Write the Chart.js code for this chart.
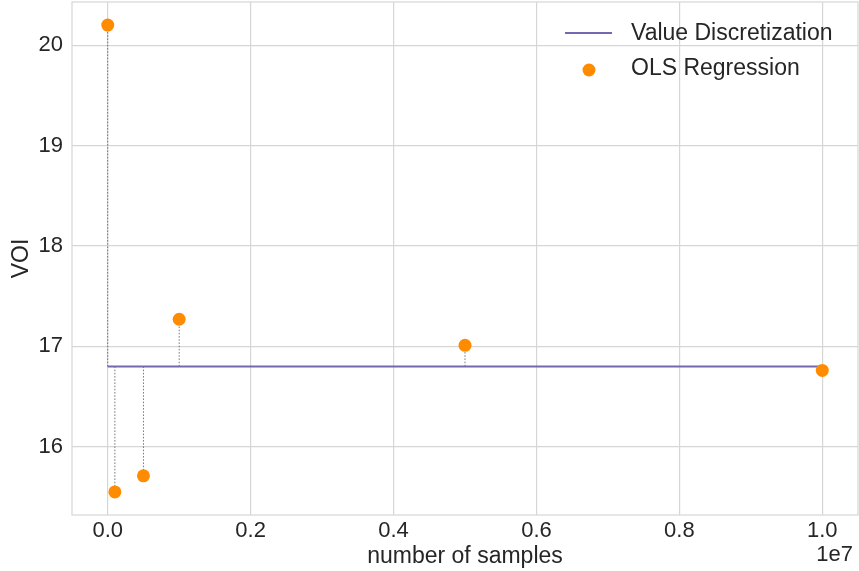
<!DOCTYPE html>
<html>
<head>
<meta charset="utf-8">
<script src="https://cdn.jsdelivr.net/npm/chart.js@4/dist/chart.umd.min.js"></script>
<style>
  html, body { margin: 0; padding: 0; background: #ffffff; }
  #chart { display: block; }
</style>
</head>
<body>
<canvas id="chart" width="859" height="571"></canvas>
<script>
// Sample counts and the VOI estimate obtained by OLS regression at each
const sampleCounts = [0, 100000, 500000, 1000000, 5000000, 10000000];
const olsVoi = [20.2, 15.55, 15.71, 17.27, 17.01, 16.76];

// Value discretization result, constant across the sample range
const discretizationX = [0, 10000000];
const discretizationVoi = [16.8, 16.8];

// Axis ticks and limits
const xTicks = [0, 2000000, 4000000, 6000000, 8000000, 10000000];
const yTicks = [16, 17, 18, 19, 20];
const xLimits = [-500000, 10500000];
const yLimits = [15.32, 20.43];

const TEXT = '#262626';
const GRID = '#d6d6d6';
const FONT = "'Liberation Sans', Arial, sans-serif";
const LINE_COLOR = '#7468b0';
const DOT_COLOR = '#ff8c00';

// Dotted stems joining each regression estimate to the discretization level
const stemDatasets = sampleCounts.map((x, i) => ({
  type: 'line',
  label: '_stem' + i,
  data: [{ x: x, y: discretizationVoi[0] }, { x: x, y: olsVoi[i] }],
  borderColor: 'rgba(50,50,50,0.8)',
  borderWidth: 0.8,
  borderDash: [1.6, 1.6],
  pointRadius: 0,
  order: 2
}));

const datasets = [
  {
    type: 'scatter',
    label: 'OLS Regression',
    data: sampleCounts.map((x, i) => ({ x: x, y: olsVoi[i] })),
    backgroundColor: DOT_COLOR,
    borderWidth: 0,
    pointRadius: 6.5,
    order: 0
  },
  {
    type: 'line',
    label: 'Value Discretization',
    data: discretizationX.map((x, i) => ({ x: x, y: discretizationVoi[i] })),
    borderColor: LINE_COLOR,
    borderWidth: 2,
    pointRadius: 0,
    order: 1
  },
  ...stemDatasets
];

// Frame, legend and the scientific offset label
const decorations = {
  id: 'decorations',
  afterDraw(chart) {
    const { ctx, chartArea: a } = chart;
    ctx.save();
    ctx.strokeStyle = GRID;
    ctx.lineWidth = 1.2;
    ctx.strokeRect(a.left, a.top, a.right - a.left, a.bottom - a.top);

    ctx.fillStyle = TEXT;
    ctx.font = '23px ' + FONT;
    ctx.textBaseline = 'middle';
    ctx.textAlign = 'left';

    // legend entry: line
    ctx.strokeStyle = LINE_COLOR;
    ctx.lineWidth = 2;
    ctx.beginPath();
    ctx.moveTo(565, 33);
    ctx.lineTo(612, 33);
    ctx.stroke();
    ctx.fillText(datasets[1].label, 631, 34);

    // legend entry: marker
    ctx.fillStyle = DOT_COLOR;
    ctx.beginPath();
    ctx.arc(589, 70, 6.5, 0, Math.PI * 2);
    ctx.fill();
    ctx.fillStyle = TEXT;
    ctx.fillText(datasets[0].label, 631, 69);

    // exponent of the x axis
    ctx.font = '22px ' + FONT;
    ctx.textAlign = 'right';
    ctx.fillText('1e7', 853, 555);
    ctx.restore();
  }
};

new Chart(document.getElementById('chart'), {
  type: 'scatter',
  data: { datasets: datasets },
  plugins: [decorations],
  options: {
    responsive: false,
    animation: false,
    devicePixelRatio: 1,
    layout: { autoPadding: false, padding: { top: 2, right: 1, left: 0, bottom: 0 } },
    plugins: {
      legend: { display: false },
      tooltip: { enabled: false }
    },
    scales: {
      x: {
        type: 'linear',
        min: xLimits[0],
        max: xLimits[1],
        afterBuildTicks(s) { s.ticks = xTicks.map(v => ({ value: v })); },
        afterFit(s) { s.height = 56; s.paddingLeft = 0; s.paddingRight = 0; },
        ticks: {
          color: TEXT,
          font: { family: FONT, size: 22 },
          padding: 3,
          maxRotation: 0,
          callback: v => (v / 1e7).toFixed(1)
        },
        grid: { color: GRID, lineWidth: 1.2, drawTicks: false },
        border: { display: false },
        title: {
          display: true,
          text: 'number of samples',
          color: TEXT,
          font: { family: FONT, size: 23 },
          padding: { top: 0, bottom: 1 }
        }
      },
      y: {
        type: 'linear',
        min: yLimits[0],
        max: yLimits[1],
        afterBuildTicks(s) { s.ticks = yTicks.map(v => ({ value: v })); },
        afterFit(s) { s.width = 72; s.paddingTop = 0; s.paddingBottom = 0; },
        ticks: {
          color: TEXT,
          font: { family: FONT, size: 22 },
          padding: 9,
          callback: v => String(v)
        },
        grid: { color: GRID, lineWidth: 1.2, drawTicks: false },
        border: { display: false },
        title: {
          display: true,
          text: 'VOI',
          color: TEXT,
          font: { family: FONT, size: 23 },
          padding: { top: 8, bottom: 0 }
        }
      }
    }
  }
});
</script>
</body>
</html>
